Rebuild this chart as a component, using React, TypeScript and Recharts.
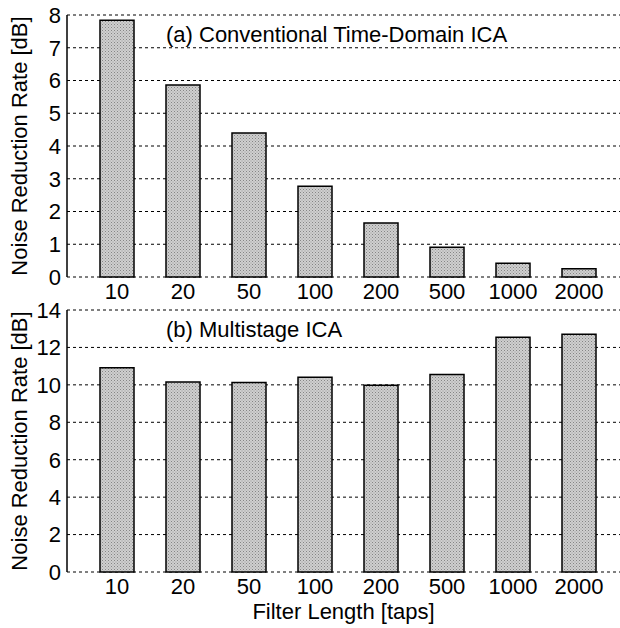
import React from "react";
import { BarChart, Bar, XAxis, YAxis, CartesianGrid } from "recharts";

const categories = ["10", "20", "50", "100", "200", "500", "1000", "2000"];
const conventionalValues = [7.84, 5.86, 4.4, 2.77, 1.65, 0.91, 0.42, 0.25];
const multistageValues = [10.92, 10.15, 10.12, 10.4, 9.98, 10.55, 12.55, 12.7];
const topTicks = [0, 1, 2, 3, 4, 5, 6, 7, 8];
const bottomTicks = [0, 2, 4, 6, 8, 10, 12, 14];

const topData = categories.map((c, i) => ({ cat: c, v: conventionalValues[i] }));
const bottomData = categories.map((c, i) => ({ cat: c, v: multistageValues[i] }));

const FONT = "'Liberation Sans', Arial, sans-serif";

const YLabel = (props: any) => {
  const vb = props.viewBox || {};
  const cx = 19;
  const cy = (vb.y || 0) + (vb.height || 0) / 2;
  return (
    <text
      x={cx}
      y={cy}
      transform={`rotate(-90 ${cx} ${cy})`}
      textAnchor="middle"
      dominantBaseline="central"
      fontSize={22}
      fontFamily={FONT}
      fill="#000"
    >
      Noise Reduction Rate [dB]
    </text>
  );
};

const Pattern = ({ id }: { id: string }) => (
  <defs>
    <pattern id={id} width="3" height="3" patternUnits="userSpaceOnUse">
      <rect width="3" height="3" fill="#cfcfcf" />
      <rect x="0" y="0" width="1" height="1" fill="#858585" />
      <rect x="1.5" y="1.5" width="1" height="1" fill="#9a9a9a" />
    </pattern>
  </defs>
);

const tickStyle = { fontSize: 22, fill: "#000", fontFamily: FONT };

export default function App() {
  return (
    <div style={{ position: "absolute", left: 0, top: 0, width: 620, height: 628, background: "#fff", fontFamily: FONT }}>
      <div style={{ position: "absolute", left: 0, top: 0 }}>
        <BarChart width={620} height={310} data={topData} margin={{ top: 15, right: 0, bottom: 0, left: 0 }} barSize={34}>
          <Pattern id="hatchA" />
          <CartesianGrid vertical={false} stroke="#000" strokeDasharray="3 3" />
          <XAxis dataKey="cat" height={33} tickLine={false} axisLine={false} tick={tickStyle} tickMargin={0} padding={{ left: 17, right: 8 }} interval={0} />
          <YAxis width={67} domain={[0, 8]} ticks={topTicks} tickLine={false} axisLine={{ stroke: "#000", strokeWidth: 1.5 }} tick={tickStyle} tickMargin={0} interval={0} label={<YLabel />} />
          <Bar dataKey="v" fill="url(#hatchA)" stroke="#000" strokeWidth={1.5} isAnimationActive={false} />
          <text x={166} y={42} fontSize={22} fontFamily={FONT} fill="#000">(a) Conventional Time-Domain ICA</text>
        </BarChart>
      </div>
      <div style={{ position: "absolute", left: 0, top: 290 }}>
        <BarChart width={620} height={338} data={bottomData} margin={{ top: 20, right: 0, bottom: 0, left: 0 }} barSize={34}>
          <Pattern id="hatchB" />
          <CartesianGrid vertical={false} stroke="#000" strokeDasharray="3 3" />
          <XAxis
            dataKey="cat"
            height={56}
            tickLine={false}
            axisLine={false}
            tick={tickStyle}
            tickMargin={0}
            padding={{ left: 17, right: 8 }}
            interval={0}
            label={{ value: "Filter Length [taps]", position: "insideBottom", offset: 9, fontSize: 22, fill: "#000", fontFamily: FONT }}
          />
          <YAxis width={67} domain={[0, 14]} ticks={bottomTicks} tickLine={false} axisLine={{ stroke: "#000", strokeWidth: 1.5 }} tick={tickStyle} tickMargin={0} interval={0} label={<YLabel />} />
          <Bar dataKey="v" fill="url(#hatchB)" stroke="#000" strokeWidth={1.5} isAnimationActive={false} />
          <text x={166} y={47} fontSize={22} fontFamily={FONT} fill="#000">(b) Multistage ICA</text>
        </BarChart>
      </div>
    </div>
  );
}
